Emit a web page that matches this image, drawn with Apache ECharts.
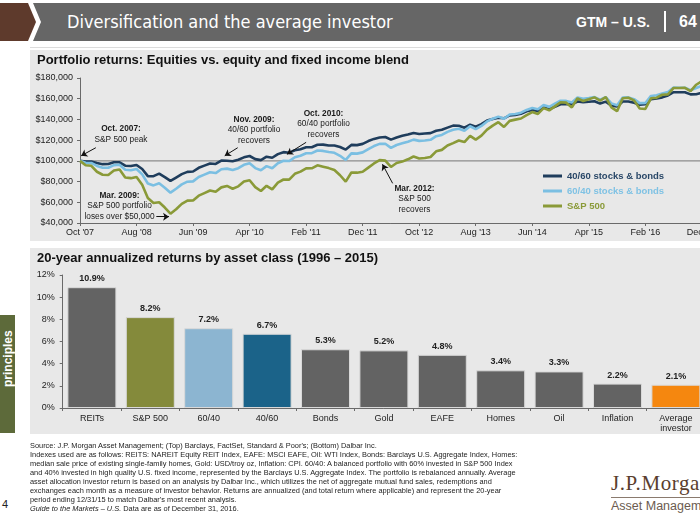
<!DOCTYPE html>
<html><head><meta charset="utf-8">
<script src="https://cdn.jsdelivr.net/npm/echarts/dist/echarts.min.js"></script>
<style>
html,body{margin:0;padding:0;width:700px;height:525px;overflow:hidden;background:#fff;font-family:"Liberation Sans",Arial,sans-serif;}
.abs{position:absolute;}
#chart{position:absolute;left:0;top:0;width:720px;height:525px;z-index:2;}
.foot{left:30px;top:441px;font-size:7.4px;line-height:9px;color:#222;white-space:nowrap;z-index:3;}
</style></head><body>
<!-- header -->
<div class="abs" style="left:0;top:3px;width:40px;height:38px;background:#5e3a2c;clip-path:polygon(0 0,28px 0,36px 19px,28px 38px,0 38px);"></div>
<div class="abs" style="left:33px;top:3px;width:667px;height:38px;background:#666666;clip-path:polygon(0 0,100% 0,100% 100%,0 100%,8px 19px);"></div>
<div class="abs" style="left:67px;top:12px;line-height:20px;color:#fff;font-size:18px;font-family:'Liberation Sans Narrow','DejaVu Sans Condensed',sans-serif;white-space:nowrap;">Diversification and the average investor</div>
<div class="abs" style="left:576px;top:14px;line-height:16px;color:#fff;font-size:14px;font-weight:bold;font-family:'Liberation Sans Narrow',sans-serif;white-space:nowrap;">GTM – U.S.</div>
<div class="abs" style="left:664px;top:11px;width:1.5px;height:21px;background:#fff;"></div>
<div class="abs" style="left:679px;top:13px;line-height:18px;color:#fff;font-size:16px;font-weight:bold;font-family:'Liberation Sans Narrow',sans-serif;">64</div>
<div class="abs" style="left:30px;top:47px;width:670px;height:1px;background:#dcdcdc;"></div>
<!-- panels -->
<div class="abs" style="left:30px;top:50px;width:670px;height:191px;background:#e8e8e8;z-index:1;"></div>
<div class="abs" style="left:30px;top:248px;width:670px;height:186px;background:#e8e8e8;z-index:1;"></div>
<!-- side tab -->
<div class="abs" style="left:0;top:315px;width:15px;height:118px;background:#5d6a3a;z-index:1;"></div>
<div class="abs" style="left:-14px;top:358px;width:44px;height:14px;line-height:14px;text-align:center;color:#fff;font-size:12px;font-weight:bold;font-family:'Liberation Sans Narrow',sans-serif;transform:rotate(-90deg);z-index:2;">principles</div>
<!-- page number -->
<div class="abs" style="left:2px;top:498px;font-size:11px;line-height:13px;color:#222;">4</div>
<!-- footer -->
<div class="abs foot">Source: J.P. Morgan Asset Management; (Top) Barclays, FactSet, Standard &amp; Poor's; (Bottom) Dalbar Inc.<br>Indexes used are as follows: REITS: NAREIT Equity REIT Index, EAFE: MSCI EAFE, Oil: WTI Index, Bonds: Barclays U.S. Aggregate Index, Homes:<br>median sale price of existing single-family homes, Gold: USD/troy oz, Inflation: CPI. 60/40: A balanced portfolio with 60% invested in S&amp;P 500 Index<br>and 40% invested in high quality U.S. fixed income, represented by the Barclays U.S. Aggregate Index. The portfolio is rebalanced annually. Average<br>asset allocation investor return is based on an analysis by Dalbar Inc., which utilizes the net of aggregate mutual fund sales, redemptions and<br>exchanges each month as a measure of investor behavior. Returns are annualized (and total return where applicable) and represent the 20-year<br>period ending 12/31/15 to match Dalbar's most recent analysis.<br><i>Guide to the Markets – U.S.</i> Data are as of December 31, 2016.</div>
<!-- logo -->
<div class="abs" style="left:611px;top:473px;font-size:21px;line-height:21px;letter-spacing:0.6px;color:#5a3e2e;font-family:'Liberation Serif',serif;white-space:nowrap;">J.P.Morgan</div>
<div class="abs" style="left:611px;top:497px;width:89px;height:1px;background:#8a7a6e;"></div>
<div class="abs" style="left:611px;top:499px;font-size:12.5px;line-height:14px;color:#6b5b50;white-space:nowrap;">Asset Management</div>

<div id="chart"></div>
<script>
// ---------- data ----------
const monthTicks = ["Oct '07","Aug '08","Jun '09","Apr '10","Feb '11","Dec '11","Oct '12","Aug '13","Jun '14","Apr '15","Feb '16","Dec '16"];

const sp500 = [100000,95800,95200,89500,86600,86300,90600,91700,83900,83300,
84500,76900,64100,59300,60000,54900,49000,53300,58500,61600,
61700,66400,68900,71400,70200,74400,75800,73100,75400,80000,
81300,74700,70900,75900,72400,78900,82000,81900,87500,89600,
92700,92800,95700,94400,93000,91100,86100,80000,88800,88600,
89500,93500,97500,100700,100200,94100,97900,99300,101500,104200,
102300,102700,103700,109200,110600,114800,117100,119700,118100,124100,
120500,124300,130100,134000,137300,132700,138600,139800,140900,144200,
147100,145300,150900,148800,152600,156600,156200,151600,160400,157800,
159500,161300,158200,161600,151700,148000,160500,160900,158400,150500,
150100,160400,161000,163800,164200,170400,170400,170500,167400,173500,176900];

const blend6040 = [100000,98200,98000,95100,93400,93300,95900,96200,91400,91000,
92100,86900,78100,76300,78300,74000,69300,73100,77300,79900,
80200,84400,86700,89000,88200,91900,92500,91100,92900,96200,
97600,93000,90900,94900,92900,97700,100100,99800,103500,105000,
107300,107400,110000,109600,108500,107800,104900,100900,107200,107000,
108200,111400,114300,116400,116500,112500,115300,116900,118500,120500,
119300,119600,120300,123800,125000,128000,130000,131000,129100,133400,
130600,133700,138100,140700,142700,140700,144700,145300,146500,149200,
151100,149800,153900,152200,155200,158100,157900,156400,161200,159900,
160700,161600,159000,161500,155500,153600,161200,161300,159600,155700,
155900,162700,163300,165100,166500,170700,170600,170600,168200,170300,172500];

const blend4060 = [100000,99400,99300,98000,96800,96900,98600,98600,95300,95000,
96000,92100,85300,85200,87700,84300,80600,83900,87200,89400,
89700,93300,95400,97400,97000,100200,100100,99600,101100,103400,
104700,101700,100700,104000,103000,106500,108400,107900,110200,111300,
113100,113200,115500,115700,114800,114900,113400,110900,115400,115200,
116400,119100,121200,122500,123000,120500,122500,124200,125400,126900,
126000,126400,126800,129000,130000,132100,134000,133900,132000,135000,
132900,135400,138900,140500,141700,141100,143900,144300,145500,147800,
149100,148100,151400,149900,152300,154600,154600,154700,157300,156700,
157000,157500,155300,157200,153200,152400,157300,157300,156000,154100,
154700,159600,160200,161300,163200,166300,166200,166200,164200,164300,165700];

const assetClasses = ['REITs','S&P 500','60/40','40/60','Bonds','Gold','EAFE','Homes','Oil','Inflation','Average\ninvestor'];
const annualReturns = [10.9,8.2,7.2,6.7,5.3,5.2,4.8,3.4,3.3,2.2,2.1];

// ---------- styles ----------
const C4060 = '#1f3d5c', C6040 = '#7bbfe2', CSP = '#8a9a38';
const barColors = ['#636363','#848a3b','#8cb5d1','#1b6389','#636363','#636363','#636363','#636363','#636363','#636363','#f5870f'];
const AX = '#6a6a6a';
const FONT = '"Liberation Sans", Arial, sans-serif';
const toPairs = a => a.map((v, i) => [i, v]);
const money = v => '$' + String(v).replace(/\B(?=(\d{3})+(?!\d))/g, ',');

function note(cx, top, bold, lines) {
  return {
    type: 'text', x: cx, y: top, silent: true, z: 100,
    style: {
      text: '{b|' + bold + '}\n' + lines.join('\n'),
      align: 'center', verticalAlign: 'top',
      fill: '#1a1a1a', fontSize: 8.3, fontFamily: FONT, lineHeight: 10.5,
      rich: { b: { fontWeight: 'bold', fontSize: 8.3, lineHeight: 10.5, fill: '#1a1a1a', fontFamily: FONT } }
    }
  };
}

function vline(x, color) {
  return [{ coord: [x, 40000], lineStyle: { color: color, type: [3, 2], width: 1.2 } }, { coord: [x, 184000] }];
}
function arrow(x1, y1, x2, y2) {
  return [{ coord: [x1, y1] }, { coord: [x2, y2] }];
}

const chart = echarts.init(document.getElementById('chart'), null, { renderer: 'canvas' });
chart.setOption({
  animation: false,
  backgroundColor: 'transparent',
  textStyle: { fontFamily: FONT },
  title: [
    { text: 'Portfolio returns: Equities vs. equity and fixed income blend', left: 37, top: 54, padding: 0,
      textStyle: { fontSize: 13, fontWeight: 'bold', color: '#111', fontFamily: FONT } },
    { text: '20-year annualized returns by asset class (1996 – 2015)', left: 37, top: 252, padding: 0,
      textStyle: { fontSize: 13, fontWeight: 'bold', color: '#111', fontFamily: FONT } }
  ],
  grid: [
    { left: 80, top: 78, width: 623.7, height: 145 },
    { left: 62.7, top: 275, width: 642.4, height: 133 }
  ],
  xAxis: [
    { gridIndex: 0, type: 'value', min: 0, max: 110, interval: 10,
      axisLine: { lineStyle: { color: AX, width: 1 } },
      axisTick: { show: true, length: 3, lineStyle: { color: AX } },
      axisLabel: { fontSize: 9, color: '#222', margin: 5, formatter: v => monthTicks[Math.round(v / 10)] },
      splitLine: { show: false } },
    { gridIndex: 1, type: 'category', data: assetClasses,
      axisLine: { lineStyle: { color: AX, width: 1 } },
      axisTick: { show: true, length: 3, lineStyle: { color: AX } },
      axisLabel: { fontSize: 9, color: '#222', margin: 6, lineHeight: 10, interval: 0 } }
  ],
  yAxis: [
    { gridIndex: 0, type: 'value', min: 40000, max: 180000, interval: 20000,
      axisLine: { show: true, lineStyle: { color: AX } },
      axisTick: { show: true, length: 3, lineStyle: { color: AX } },
      axisLabel: { fontSize: 9, color: '#222', margin: 7, formatter: money },
      splitLine: { show: false } },
    { gridIndex: 1, type: 'value', min: 0, max: 12, interval: 2,
      axisLine: { show: true, lineStyle: { color: AX } },
      axisTick: { show: true, length: 3, lineStyle: { color: AX } },
      axisLabel: { fontSize: 9, color: '#222', margin: 8, formatter: '{value}%' },
      splitLine: { show: false } }
  ],
  legend: {
    orient: 'vertical', left: 538, top: 166, itemWidth: 19, itemHeight: 3, itemGap: 5, icon: 'rect',
    data: [
      { name: '40/60 stocks & bonds', textStyle: { color: '#2a4868' } },
      { name: '60/40 stocks & bonds', textStyle: { color: '#7fc2e4' } },
      { name: 'S&P 500', textStyle: { color: CSP } }
    ],
    textStyle: { fontSize: 9.5, fontWeight: 'bold', fontFamily: FONT }
  },
  graphic: [
    note(121, 123.8, 'Oct. 2007:', ['S&P 500 peak']),
    note(119.5, 190.4, 'Mar. 2009:', ['S&P 500 portfolio', 'loses over $50,000']),
    note(254, 114, 'Nov. 2009:', ['40/60 portfolio', 'recovers']),
    note(323.5, 108.4, 'Oct. 2010:', ['60/40 portfolio', 'recovers']),
    note(414.5, 183, 'Mar. 2012:', ['S&P 500', 'recovers'])
  ],
  series: [
    { name: 'refs', type: 'line', xAxisIndex: 0, yAxisIndex: 0, data: [[0, 100000], [110, 100000]],
      symbol: 'none', silent: true, clip: false, z: 1,
      lineStyle: { color: '#8c8c8c', width: 1.3 },
      markLine: { silent: true, symbol: 'none', label: { show: false }, animation: false,
        data: [ vline(16, '#222222'), vline(25, '#3b6a8f'), vline(36, '#6db5d8'), vline(53, '#a4ab4e') ] } },
    { name: '40/60 stocks & bonds', type: 'line', xAxisIndex: 0, yAxisIndex: 0, data: toPairs(blend4060),
      symbol: 'none', color: C4060, lineStyle: { color: C4060, width: 2.6 }, z: 3 },
    { name: '60/40 stocks & bonds', type: 'line', xAxisIndex: 0, yAxisIndex: 0, data: toPairs(blend6040),
      symbol: 'none', color: C6040, lineStyle: { color: C6040, width: 2.6 }, z: 4 },
    { name: 'S&P 500', type: 'line', xAxisIndex: 0, yAxisIndex: 0, data: toPairs(sp500),
      symbol: 'none', color: CSP, lineStyle: { color: CSP, width: 2.6 }, z: 5, clip: false,
      markLine: { silent: true, symbol: ['none', 'arrow'], symbolSize: 6, label: { show: false }, animation: false,
        lineStyle: { color: '#111', width: 1, type: 'solid' },
        data: [
          arrow(2.8, 112700, 0.2, 104900),
          arrow(13.5, 46100, 15.75, 46100),
          arrow(27.9, 112700, 25.6, 104900),
          arrow(40.0, 117900, 36.6, 106300),
          arrow(55.3, 78300, 53.5, 96700)
        ] } },
    { name: 'returns', type: 'bar', xAxisIndex: 1, yAxisIndex: 1,
      data: annualReturns.map((v, i) => ({ value: v, itemStyle: { color: barColors[i] } })),
      barWidth: 49,
      itemStyle: { borderColor: '#d9d9d9', borderWidth: 1 },
      label: { show: true, position: 'top', distance: 4, fontSize: 9, fontWeight: 'bold', color: '#222',
        formatter: p => p.value.toFixed(1) + '%' } }
  ]
});
</script>
</body></html>
